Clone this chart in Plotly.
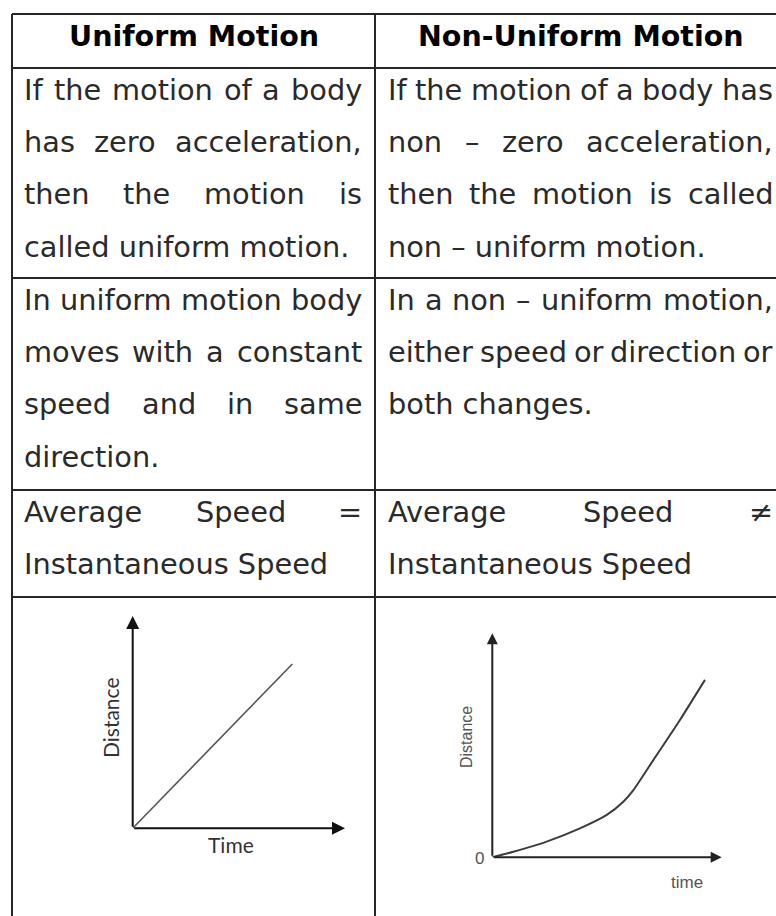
import plotly.graph_objects as go

# ---------------- data ----------------
headers = ["Uniform Motion", "Non-Uniform Motion"]

uniform_definition = ["If the motion of a body", "has zero acceleration,",
                      "then the motion is", "called uniform motion."]
nonuniform_definition = ["If the motion of a body has", "non – zero acceleration,",
                         "then the motion is called", "non – uniform motion."]
uniform_speed = ["In uniform motion body", "moves with a constant",
                 "speed and in same", "direction."]
nonuniform_speed = ["In a non – uniform motion,", "either speed or direction or",
                    "both changes."]
uniform_average = ["Average Speed =", "Instantaneous Speed"]
nonuniform_average = ["Average Speed ≠", "Instantaneous Speed"]

uniform_time = [0, 7.52]
uniform_distance = [0, 7.74]
nonuniform_time = [0, 0.92, 2.37, 3.82, 4.99, 5.71, 6.15, 7.02, 8.18, 9.27]
nonuniform_distance = [0, 0.25, 0.70, 1.29, 1.89, 2.48, 3.00, 4.34, 6.13, 7.92]

uniform_axis_labels = ["Time", "Distance"]
nonuniform_axis_labels = ["time", "Distance", "0"]

# ---------------- layout constants ----------------
W, H = 776, 916
ROW_EDGES = [14, 68, 278, 490, 597]
COL_LINES = [12, 375]
COL_TEXT = [(24, 362), (388, 773)]
BODY_SIZE = 28.8
HEAD_SIZE = 28.5
LINE_GAP = 52.4
FIRST_OFFSET = 21.5
TEXT_COLOR = "#2a2a2a"
LINE_COLOR = "#262626"

# DejaVu Sans advance widths (em)
CW = {" ": .318, "a": .613, "b": .635, "c": .550, "d": .635, "e": .615, "f": .352,
      "g": .635, "h": .634, "i": .278, "j": .278, "k": .579, "l": .278, "m": .974,
      "n": .634, "o": .612, "p": .635, "q": .635, "r": .411, "s": .521, "t": .392,
      "u": .634, "v": .592, "w": .818, "x": .592, "y": .592, "z": .525,
      "A": .684, "I": .295, "S": .635, "N": .748, "U": .732, "M": .863,
      ",": .318, ".": .318, "–": .500, "=": .838, "≠": .838, "-": .361}


def text_width(s, size):
    return sum(CW.get(ch, .6) for ch in s) * size


annotations = []


def add_text(txt, x, y, anchor="left", size=BODY_SIZE, bold=False, color=TEXT_COLOR):
    annotations.append(dict(
        x=x, y=y, xref="x", yref="y", text=("<b>%s</b>" % txt) if bold else txt,
        showarrow=False, xanchor=anchor, yanchor="middle",
        borderpad=0, borderwidth=0,
        font=dict(family="DejaVu Sans", size=size, color=color)))


def add_paragraph(lines, col, row):
    left, right = COL_TEXT[col]
    top = ROW_EDGES[row]
    for k, line in enumerate(lines):
        y = top + FIRST_OFFSET + k * LINE_GAP
        if k == len(lines) - 1:
            add_text(line, left, y)
            continue
        words = line.split(" ")
        widths = [text_width(w, BODY_SIZE) for w in words]
        gap = (right - left - sum(widths)) / (len(words) - 1)
        x = left
        for i, (w, ww) in enumerate(zip(words, widths)):
            if i == len(words) - 1:
                add_text(w, right, y, anchor="right")
            else:
                add_text(w, x, y)
            x += ww + gap


# header
add_text(headers[0], 194, ROW_EDGES[0] + 22, anchor="center", size=HEAD_SIZE, bold=True, color="#000")
add_text(headers[1], 581, ROW_EDGES[0] + 22, anchor="center", size=HEAD_SIZE, bold=True, color="#000")

add_paragraph(uniform_definition, 0, 1)
add_paragraph(nonuniform_definition, 1, 1)
add_paragraph(uniform_speed, 0, 2)
add_paragraph(nonuniform_speed, 1, 2)
add_paragraph(uniform_average, 0, 3)
add_paragraph(nonuniform_average, 1, 3)

# grid lines
shapes = []
for yy in ROW_EDGES:
    shapes.append(dict(type="line", xref="x", yref="y", x0=COL_LINES[0], x1=W, y0=yy, y1=yy,
                       line=dict(color=LINE_COLOR, width=2)))
for xx in COL_LINES:
    shapes.append(dict(type="line", xref="x", yref="y", x0=xx, x1=xx, y0=ROW_EDGES[0], y1=H,
                       line=dict(color=LINE_COLOR, width=2)))

fig = go.Figure()

# graphs
fig.add_trace(go.Scatter(x=uniform_time, y=uniform_distance, xaxis="x2", yaxis="y2",
                         mode="lines", line=dict(color="#555", width=1.6),
                         hoverinfo="skip", showlegend=False))
fig.add_trace(go.Scatter(x=nonuniform_time, y=nonuniform_distance, xaxis="x3", yaxis="y3",
                         mode="lines", line=dict(color="#3c3c3c", width=2, shape="spline", smoothing=0.6),
                         hoverinfo="skip", showlegend=False))


def axis_arrow(xr, yr, x, y, color, width, size):
    annotations.append(dict(x=x, y=y, ax=0, ay=0, xref=xr, yref=yr, axref=xr, ayref=yr,
                            text="", showarrow=True, arrowhead=2, arrowsize=size,
                            arrowwidth=width, arrowcolor=color, standoff=0))


axis_arrow("x2", "y2", 10, 0, "#111", 2, 1.3)
axis_arrow("x2", "y2", 0, 10, "#111", 2, 1.3)
axis_arrow("x3", "y3", 10, 0, "#222", 2, 1.1)
axis_arrow("x3", "y3", 0, 10, "#222", 2, 1.1)

# graph labels
annotations.append(dict(x=231, y=844, xref="x", yref="y", text=uniform_axis_labels[0], showarrow=False,
                        font=dict(family="Lato", size=21, color="#333")))
annotations.append(dict(x=110, y=718, xref="x", yref="y", text=uniform_axis_labels[1], showarrow=False,
                        textangle=-90, font=dict(family="Lato", size=21, color="#333")))
annotations.append(dict(x=687, y=882, xref="x", yref="y", text=nonuniform_axis_labels[0], showarrow=False,
                        font=dict(family="Liberation Sans", size=17, color="#555")))
annotations.append(dict(x=466, y=737, xref="x", yref="y", text=nonuniform_axis_labels[1], showarrow=False,
                        textangle=-90, font=dict(family="Liberation Sans", size=16, color="#555")))
annotations.append(dict(x=479, y=858, xref="x", yref="y", text=nonuniform_axis_labels[2], showarrow=False,
                        font=dict(family="Liberation Sans", size=17, color="#555")))

hidden = dict(visible=False, fixedrange=True)
fig.update_layout(
    width=W, height=H, autosize=False,
    margin=dict(l=0, r=0, t=0, b=0),
    paper_bgcolor="white", plot_bgcolor="rgba(0,0,0,0)",
    showlegend=False,
    xaxis=dict(range=[0, W], domain=[0, 1], **hidden),
    yaxis=dict(range=[H, 0], domain=[0, 1], **hidden),
    xaxis2=dict(range=[0, 10], domain=[132.7 / W, 345 / W], anchor="y2", **hidden),
    yaxis2=dict(range=[0, 10], domain=[1 - 828.3 / H, 1 - 616 / H], anchor="x2", **hidden),
    xaxis3=dict(range=[0, 10], domain=[492.3 / W, 721.7 / W], anchor="y3", **hidden),
    yaxis3=dict(range=[0, 10], domain=[1 - 857.3 / H, 1 - 633.3 / H], anchor="x3", **hidden),
    shapes=shapes,
    annotations=annotations,
)

fig.write_html("out.html", config={"displayModeBar": False},
               post_script="document.body.style.margin='0px';document.body.style.overflow='hidden';")
